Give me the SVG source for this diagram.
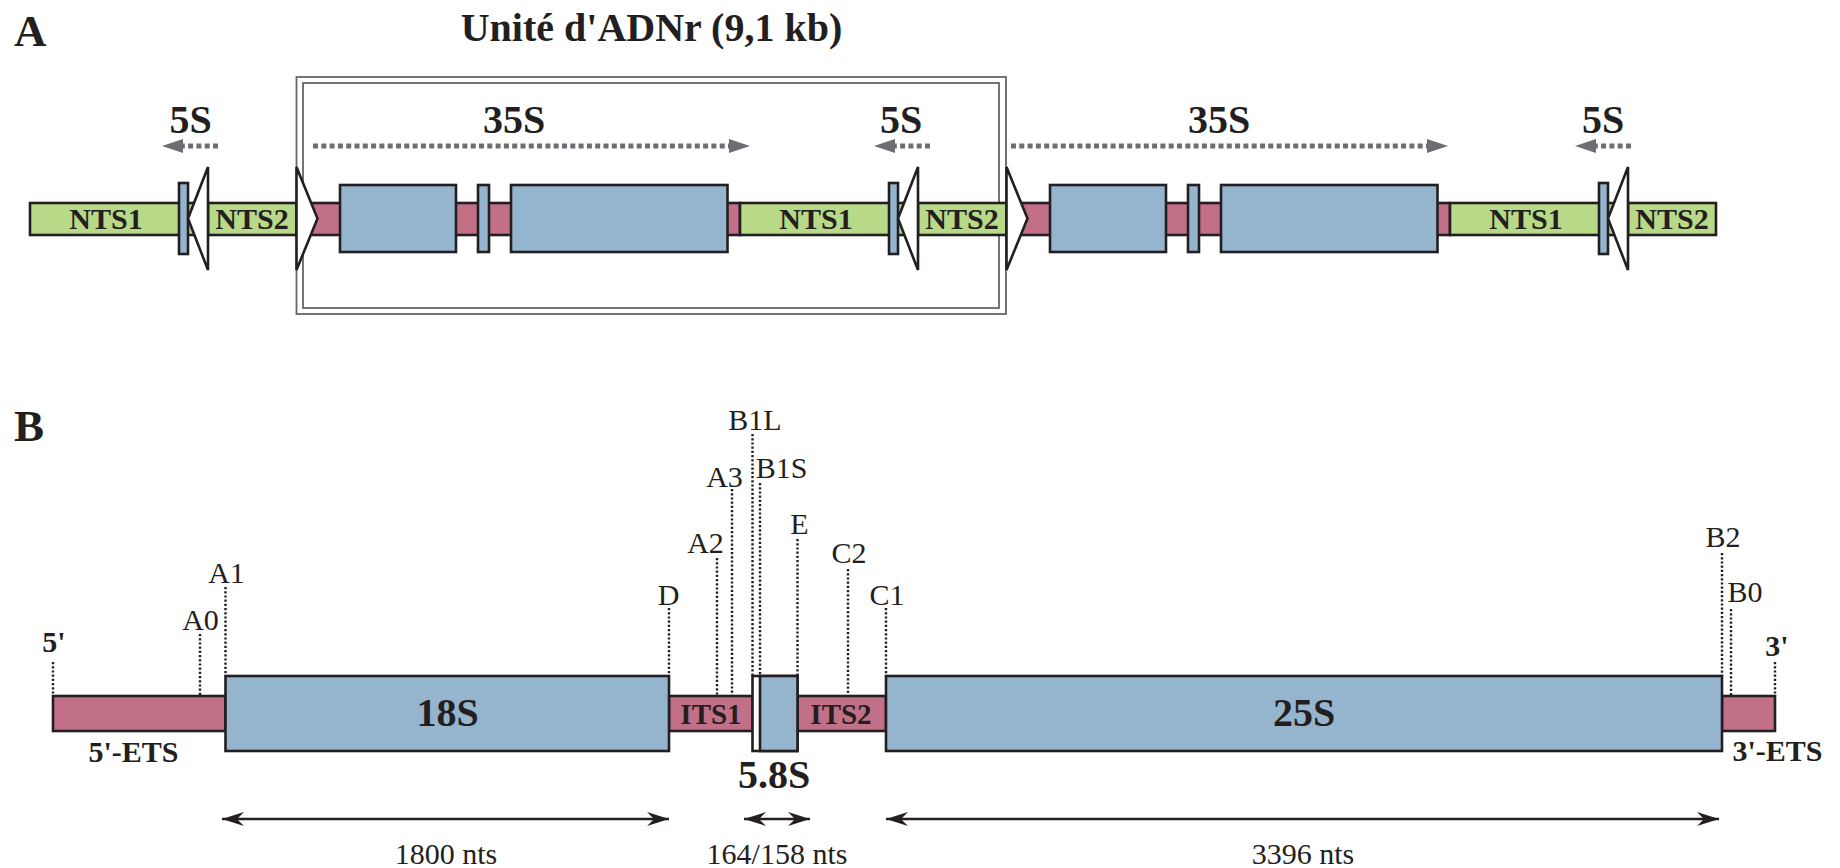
<svg xmlns="http://www.w3.org/2000/svg" width="1840" height="868" viewBox="0 0 1840 868">
<defs>
<style>
.bg{fill:#ffffff}
.grn{fill:#b8d987;stroke:#231f20;stroke-width:2.6}
.pnk{fill:#c17088;stroke:#231f20;stroke-width:2.6}
.blu{fill:#95b5cf;stroke:#231f20;stroke-width:2.6}
.wht{fill:#ffffff;stroke:#231f20;stroke-width:2.6}
.tri{fill:#ffffff;stroke:#231f20;stroke-width:2.6;stroke-linejoin:miter}
.box{fill:none;stroke:#666666;stroke-width:1.8}
.dash{stroke:#6d6e71;stroke-width:5;stroke-dasharray:5 3.3;fill:none}
.ahd{fill:#6d6e71}
.dot{stroke:#231f20;stroke-width:2.4;stroke-dasharray:2.2 2;fill:none}
.dim{stroke:#231f20;stroke-width:2.5;fill:none;marker-start:url(#ah);marker-end:url(#ah)}
.hb{font-family:"Liberation Serif","Times New Roman",serif;font-weight:bold;fill:#231f20}
.hr{font-family:"Liberation Serif","Times New Roman",serif;fill:#231f20}
.mid{text-anchor:middle}
</style>
<marker id="ah" viewBox="-24 -8 26 16" refX="0" refY="0" markerWidth="26" markerHeight="16" markerUnits="userSpaceOnUse" orient="auto-start-reverse">
<path d="M0,0 L-22,-7 L-15,0 L-22,7 Z" fill="#231f20"/>
</marker>
</defs>
<rect class="bg" x="0" y="0" width="1840" height="868"/>

<g id="panel-labels">
<text class="hb" x="14" y="46" font-size="45">A</text>
<text class="hb" x="14" y="441" font-size="45">B</text>
<text class="hb mid" x="651.5" y="41" font-size="40">Unité d'ADNr (9,1 kb)</text>
</g>

<g id="unit-box">
<rect class="box" x="296.5" y="77" width="709.5" height="237"/>
<rect class="box" x="303" y="83" width="696" height="225"/>
</g>

<g id="a-track">
<rect class="grn" x="30" y="203" width="178" height="32"/>
<rect class="grn" x="208" y="203" width="88.5" height="32"/>
<rect class="pnk" x="296.5" y="203" width="443.5" height="32"/>
<rect class="grn" x="740" y="203" width="178" height="32"/>
<rect class="grn" x="918" y="203" width="88.5" height="32"/>
<rect class="pnk" x="1006.5" y="203" width="443.5" height="32"/>
<rect class="grn" x="1450" y="203" width="178" height="32"/>
<rect class="grn" x="1628" y="203" width="88" height="32"/>
</g>

<g id="a-genes">
<rect class="blu" x="340" y="185" width="116" height="67"/>
<rect class="blu" x="478" y="185" width="11" height="67"/>
<rect class="blu" x="511" y="185" width="216.5" height="67"/>
<rect class="blu" x="1050" y="185" width="116" height="67"/>
<rect class="blu" x="1188" y="185" width="11" height="67"/>
<rect class="blu" x="1221" y="185" width="216.5" height="67"/>
<rect class="blu" x="179" y="183" width="9" height="71"/>
<rect class="blu" x="889" y="183" width="9" height="71"/>
<rect class="blu" x="1599" y="183" width="9" height="71"/>
</g>

<g id="a-promoters">
<polygon class="tri" points="188,218.5 208,167 208,270"/>
<polygon class="tri" points="898,218.5 918,167 918,270"/>
<polygon class="tri" points="1608,218.5 1628,167 1628,270"/>
<polygon class="tri" points="296.5,167 317.5,218.5 296.5,270"/>
<polygon class="tri" points="1006.5,167 1027.5,218.5 1006.5,270"/>
</g>

<g id="a-labels">
<text class="hb mid" x="106" y="229" font-size="30">NTS1</text>
<text class="hb mid" x="252" y="229" font-size="30">NTS2</text>
<text class="hb mid" x="816" y="229" font-size="30">NTS1</text>
<text class="hb mid" x="962" y="229" font-size="30">NTS2</text>
<text class="hb mid" x="1526" y="229" font-size="30">NTS1</text>
<text class="hb mid" x="1672" y="229" font-size="30">NTS2</text>
<text class="hb mid" x="190.5" y="133" font-size="40">5S</text>
<text class="hb mid" x="514" y="133" font-size="40">35S</text>
<text class="hb mid" x="901" y="133" font-size="40">5S</text>
<text class="hb mid" x="1219" y="133" font-size="40">35S</text>
<text class="hb mid" x="1603" y="133" font-size="40">5S</text>
</g>

<g id="a-transcripts">
<line class="dash" x1="218" y1="146" x2="182" y2="146"/>
<polygon class="ahd" points="162,146 183,139 183,153"/>
<line class="dash" x1="313" y1="146" x2="730" y2="146"/>
<polygon class="ahd" points="750,146 729,139 729,153"/>
<line class="dash" x1="930" y1="146" x2="894" y2="146"/>
<polygon class="ahd" points="874,146 895,139 895,153"/>
<line class="dash" x1="1011" y1="146" x2="1428" y2="146"/>
<polygon class="ahd" points="1448,146 1427,139 1427,153"/>
<line class="dash" x1="1631" y1="146" x2="1595" y2="146"/>
<polygon class="ahd" points="1575,146 1596,139 1596,153"/>
</g>

<g id="b-sites">
<line class="dot" x1="53" y1="662" x2="53" y2="696"/>
<line class="dot" x1="200" y1="634" x2="200" y2="696"/>
<line class="dot" x1="225.5" y1="587" x2="225.5" y2="676"/>
<line class="dot" x1="669" y1="608" x2="669" y2="676"/>
<line class="dot" x1="717" y1="558" x2="717" y2="696"/>
<line class="dot" x1="732" y1="489" x2="732" y2="696"/>
<line class="dot" x1="752.5" y1="434" x2="752.5" y2="676"/>
<line class="dot" x1="760" y1="483" x2="760" y2="676"/>
<line class="dot" x1="797.5" y1="539" x2="797.5" y2="676"/>
<line class="dot" x1="848" y1="569" x2="848" y2="696"/>
<line class="dot" x1="886" y1="608" x2="886" y2="676"/>
<line class="dot" x1="1722" y1="553" x2="1722" y2="676"/>
<line class="dot" x1="1731" y1="609" x2="1731" y2="696"/>
<line class="dot" x1="1775" y1="662" x2="1775" y2="696"/>
</g>

<g id="b-track">
<rect class="pnk" x="53" y="696" width="172.5" height="35"/>
<rect class="pnk" x="669" y="696" width="83.5" height="35"/>
<rect class="pnk" x="797.5" y="696" width="88.5" height="35"/>
<rect class="pnk" x="1722" y="696" width="53" height="35"/>
</g>

<g id="b-genes">
<rect class="blu" x="225.5" y="676" width="443.5" height="75"/>
<rect class="wht" x="752.5" y="676" width="45" height="75"/>
<rect class="blu" x="760" y="676" width="37.5" height="75"/>
<rect class="blu" x="886" y="676" width="836" height="75"/>
</g>

<g id="b-labels">
<text class="hb mid" x="447.5" y="726" font-size="40">18S</text>
<text class="hb mid" x="1304" y="726" font-size="40">25S</text>
<text class="hb mid" x="711" y="724" font-size="29">ITS1</text>
<text class="hb mid" x="841" y="724" font-size="29">ITS2</text>
<text class="hb mid" x="774" y="788" font-size="40">5.8S</text>
<text class="hb mid" x="133.5" y="762" font-size="30">5'-ETS</text>
<text class="hb mid" x="1777.5" y="761" font-size="30">3'-ETS</text>
<text class="hb mid" x="54" y="652" font-size="30">5'</text>
<text class="hb mid" x="1777" y="656" font-size="30">3'</text>
<text class="hr mid" x="200.5" y="630" font-size="30">A0</text>
<text class="hr mid" x="226.5" y="583" font-size="30">A1</text>
<text class="hr mid" x="668.5" y="605" font-size="30">D</text>
<text class="hr mid" x="705.5" y="553" font-size="30">A2</text>
<text class="hr mid" x="724.5" y="487" font-size="30">A3</text>
<text class="hr mid" x="755" y="430" font-size="30">B1L</text>
<text class="hr mid" x="781.5" y="478" font-size="30">B1S</text>
<text class="hr mid" x="799.5" y="534" font-size="30">E</text>
<text class="hr mid" x="849" y="563" font-size="30">C2</text>
<text class="hr mid" x="887" y="605" font-size="30">C1</text>
<text class="hr mid" x="1723" y="547" font-size="30">B2</text>
<text class="hr mid" x="1745" y="602" font-size="30">B0</text>
</g>

<g id="b-lengths">
<line class="dim" x1="222" y1="819" x2="669" y2="819"/>
<line class="dim" x1="744" y1="819" x2="810" y2="819"/>
<line class="dim" x1="886" y1="819" x2="1719" y2="819"/>
<text class="hr mid" x="446" y="864" font-size="30">1800 nts</text>
<text class="hr mid" x="777" y="864" font-size="30">164/158 nts</text>
<text class="hr mid" x="1303" y="864" font-size="30">3396 nts</text>
</g>
</svg>
